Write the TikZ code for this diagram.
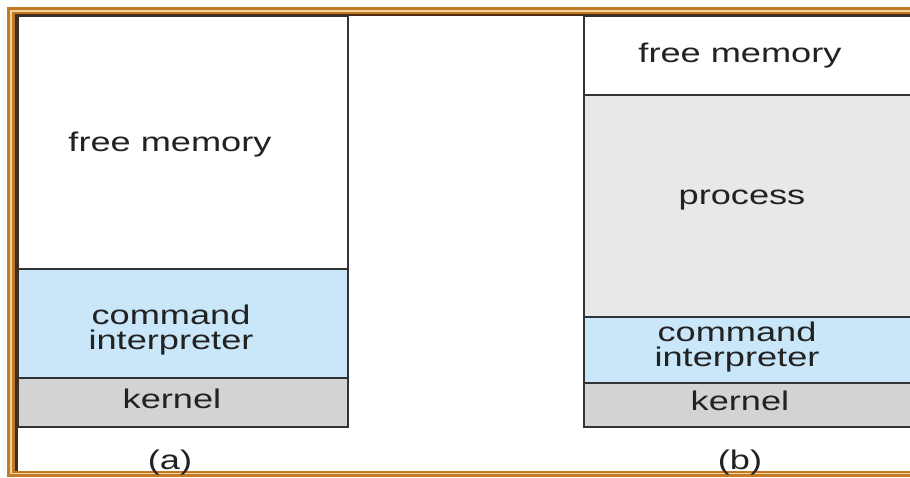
\documentclass[tikz,border=0pt]{standalone}
\usepackage{fontspec}
\newfontfamily\labfont[FakeStretch=1.34]{Liberation Sans}
\definecolor{frameor}{HTML}{C27A26}
\definecolor{framelt}{HTML}{F4D49A}
\definecolor{framedk}{HTML}{4A2A10}
\definecolor{cmdblue}{HTML}{C9E7F8}
\definecolor{kerngray}{HTML}{D3D3D5}
\definecolor{procgray}{HTML}{E8E8EA}
\definecolor{txt}{HTML}{222222}
\definecolor{edge}{HTML}{333333}
\tikzset{
  region/.style={draw=edge, line width=1.1pt},
  lab/.style={anchor=base, inner sep=0pt, text=txt, align=center,
    font=\labfont\fontsize{27}{24.5}\selectfont},
}
\begin{document}
\begin{tikzpicture}[x=1pt,y=-1pt]
\useasboundingbox (0,0) rectangle (910,478);
% frame
\fill[frameor] (7,7) rectangle (930,477);
\fill[framelt] (10,10) rectangle (930,474);
\fill[frameor] (12,12) rectangle (930,473);
\fill[framedk] (15,14) rectangle (930,471);
\fill[white] (18,16) rectangle (930,471);
% panel (a)
\path[region, fill=white] (18,16) rectangle (348,269);
\path[region, fill=cmdblue] (18,269) rectangle (348,378);
\path[region, fill=kerngray] (18,378) rectangle (348,427);
\node[lab] (afree) at (170,151.5) {free memory};
\node[lab] (acmd) at (171,349) {command\\interpreter};
\node[lab] (aker) at (172,408) {kernel};
\node[lab] (alab) at (170,469) {(a)};
% panel (b)
\path[region, fill=white] (584,16) rectangle (925,95);
\path[region, fill=procgray] (584,95) rectangle (925,317);
\path[region, fill=cmdblue] (584,317) rectangle (925,383);
\path[region, fill=kerngray] (584,383) rectangle (925,427);
\node[lab] (bfree) at (740,62.5) {free memory};
\node[lab] (bproc) at (742,205) {process};
\node[lab] (bcmd) at (737,366) {command\\interpreter};
\node[lab] (bker) at (740,410) {kernel};
\node[lab] (blab) at (740,469) {(b)};
\end{tikzpicture}
\end{document}
